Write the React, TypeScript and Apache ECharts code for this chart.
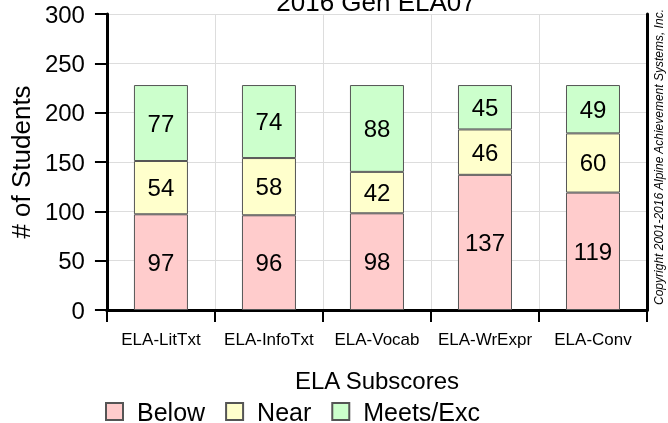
import React, { useEffect, useRef } from "react";
import * as echarts from "echarts";

const categories = ["ELA-LitTxt", "ELA-InfoTxt", "ELA-Vocab", "ELA-WrExpr", "ELA-Conv"];
const belowValues = [97, 96, 98, 137, 119];
const nearValues = [54, 58, 42, 46, 60];
const meetsValues = [77, 74, 88, 45, 49];
const seriesNames = ["Below", "Near", "Meets/Exc"];
const seriesColors = ["#ffcccc", "#ffffcc", "#ccffcc"];
const titleText = "2016 Gen ELA07";
const copyrightText = "Copyright 2001-2016 Alpine Achievement Systems, Inc.";

const FONT = "'Liberation Sans', Arial, Helvetica, sans-serif";

export default function App() {
  const ref = useRef<HTMLDivElement>(null);
  useEffect(() => {
    document.body.style.margin = "0";
    const chart = echarts.init(ref.current!, null, { renderer: "svg" });
    const data = [belowValues, nearValues, meetsValues];
    const series = seriesNames.map((name, i) => ({
      name,
      type: "bar",
      stack: "total",
      barWidth: "50%",
      xAxisIndex: 0,
      yAxisIndex: 0,
      data: data[i],
      itemStyle: { color: seriesColors[i], borderColor: "#555", borderWidth: 1 },
      label: {
        show: true,
        position: "inside",
        color: "#000",
        fontSize: 24,
        fontFamily: FONT,
      },
    }));
    chart.setOption({
      animation: false,
      textStyle: { fontFamily: FONT },
      grid: { left: 105, top: 14, width: 542, height: 296, containLabel: false },
      xAxis: [
        {
          type: "category",
          data: categories,
          name: "ELA Subscores",
          nameLocation: "middle",
          nameGap: 58,
          nameTextStyle: { fontSize: 24, color: "#000", fontFamily: FONT },
          axisLine: { lineStyle: { color: "#000", width: 3 } },
          axisTick: { show: true, alignWithLabel: false, length: 12, lineStyle: { color: "#000", width: 2 } },
          axisLabel: { fontSize: 17, color: "#000", margin: 21, interval: 0, fontFamily: FONT },
          splitLine: { show: true, interval: 0, lineStyle: { color: "#dddddd", width: 1 } },
        },
        {
          type: "category",
          data: categories,
          position: "top",
          axisLine: { lineStyle: { color: "#000", width: 3 } },
          axisTick: { show: false },
          axisLabel: { show: false },
          splitLine: { show: false },
        },
      ],
      yAxis: [
        {
          type: "value",
          min: 0,
          max: 300,
          interval: 50,
          name: "# of Students",
          nameLocation: "middle",
          nameRotate: 90,
          nameGap: 72,
          nameTextStyle: { fontSize: 26, color: "#000", fontFamily: FONT },
          axisLine: { show: true, lineStyle: { color: "#000", width: 3 } },
          axisTick: { show: true, length: 12, lineStyle: { color: "#000", width: 2 } },
          axisLabel: { fontSize: 24, color: "#000", margin: 22, fontFamily: FONT },
          splitLine: { show: true, lineStyle: { color: "#dddddd", width: 1 } },
        },
        {
          type: "value",
          min: 0,
          max: 300,
          interval: 50,
          position: "right",
          axisLine: { show: true, lineStyle: { color: "#000", width: 3 } },
          axisTick: { show: false },
          axisLabel: { show: false },
          splitLine: { show: false },
        },
      ],
      legend: {
        data: seriesNames,
        left: 100,
        top: 399,
        padding: [0, 5],
        itemWidth: 17,
        itemHeight: 17,
        itemGap: 20,
        icon: "rect",
        textStyle: { fontSize: 25, color: "#000", fontFamily: FONT, padding: [0, 0, 0, 9] },
      },
      graphic: [
        {
          type: "text",
          x: 376,
          y: 15,
          style: {
            text: titleText,
            fill: "#000",
            font: `26px ${FONT}`,
            textAlign: "center",
            textVerticalAlign: "bottom",
          },
        },
        {
          type: "text",
          x: 659,
          y: 157,
          rotation: Math.PI / 2,
          style: {
            text: copyrightText,
            fill: "#000",
            font: `italic 12px ${FONT}`,
            textAlign: "center",
            textVerticalAlign: "middle",
          },
        },
      ],
      series,
    });
    return () => chart.dispose();
  }, []);
  return <div ref={ref} style={{ position: "fixed", left: 0, top: 0, width: 668, height: 423 }} />;
}
